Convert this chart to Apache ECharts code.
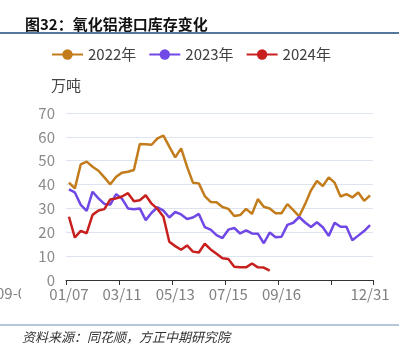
<!DOCTYPE html>
<html>
<head>
<meta charset="utf-8">
<script src="https://cdn.jsdelivr.net/npm/echarts@6/dist/echarts.min.js"></script>
<style>
html,body{margin:0;padding:0;background:#fff;}
#c{width:408px;height:364px;}
</style>
</head>
<body>
<div id="c"></div>
<script>
var categories = ["01/07","01/14","01/21","01/28","02/04","02/11","02/18","02/25","03/04","03/11","03/18","03/25","04/01","04/08","04/15","04/22","04/29","05/06","05/13","05/20","05/27","06/03","06/10","06/17","06/24","07/01","07/08","07/15","07/22","07/29","08/05","08/12","08/19","08/26","09/02","09/09","09/16","09/23","09/30","10/07","10/14","10/21","10/28","11/04","11/11","11/18","11/25","12/02","12/09","12/16","12/23","12/31"];
var s2022 = [40.8, 38.4, 48.5, 49.6, 47.5, 45.8, 43.0, 40.1, 43.3, 45.0, 45.4, 46.1, 57.0, 56.9, 56.7, 59.4, 60.5, 55.9, 51.4, 55.2, 47.5, 40.8, 40.5, 35.2, 32.7, 32.6, 30.6, 29.8, 26.8, 27.2, 29.8, 27.7, 33.9, 30.7, 30.0, 28.0, 28.0, 31.8, 29.3, 26.7, 31.8, 37.6, 41.5, 39.4, 43.0, 40.8, 35.0, 36.0, 34.6, 36.7, 33.2, 35.5];
var s2023 = [38.0, 36.7, 31.5, 29.0, 37.0, 34.2, 31.9, 31.6, 36.0, 34.0, 30.0, 29.7, 30.0, 25.1, 28.2, 30.5, 29.1, 26.2, 28.5, 27.5, 25.6, 26.2, 27.7, 22.2, 21.1, 18.8, 17.6, 21.1, 21.8, 19.5, 20.8, 19.5, 19.4, 15.4, 19.9, 17.9, 18.1, 23.1, 24.0, 26.4, 24.1, 22.2, 24.2, 22.1, 18.5, 24.0, 22.3, 22.3, 16.7, 18.6, 20.5, 23.0];
var s2024 = [26.5, 17.8, 20.6, 19.6, 27.3, 29.1, 29.7, 33.8, 34.2, 35.0, 36.4, 33.0, 33.4, 35.5, 32.0, 29.8, 26.5, 16.0, 14.2, 12.7, 14.5, 11.9, 11.5, 15.2, 12.8, 11.0, 9.1, 8.8, 5.6, 5.3, 5.3, 6.9, 5.3, 5.2, 3.9];
var seriesNames = ["2022年", "2023年", "2024年"];
var colors = ["#c27c1c", "#7048e6", "#c8201e"];
var yTicks = [0, 10, 20, 30, 40, 50, 60, 70];

var FONT = "'Noto Sans CJK SC', 'Noto Sans', sans-serif";
var chart = echarts.init(document.getElementById('c'), null, {renderer: 'canvas'});

function mk(name, data, color) {
  return {
    name: name, type: 'line', data: data,
    symbol: 'circle', symbolSize: 13, showSymbol: false,
    lineStyle: {width: 2.5, color: color},
    itemStyle: {color: color},
    emphasis: {disabled: true},
    animation: false
  };
}

chart.setOption({
  animation: false,
  color: colors,
  textStyle: {fontFamily: FONT},
  title: {
    text: '图32：氧化铝港口库存变化',
    left: 20, top: 12,
    textStyle: {fontSize: 15, fontWeight: 'bold', color: '#111', fontFamily: FONT}
  },
  legend: {
    top: 42, left: 46,
    itemWidth: 31, itemHeight: 13, itemGap: 12,
    textStyle: {fontSize: 15, color: '#404040', fontFamily: FONT},
    data: seriesNames
  },
  grid: {left: 66, right: 35, top: 113, bottom: 84, containLabel: false},
  xAxis: {
    type: 'category', data: categories, boundaryGap: true,
    axisLine: {lineStyle: {color: '#333', width: 1}},
    axisTick: {show: true, length: 5, lineStyle: {color: '#333'}, interval: function (i) { return i % 9 === 0; }},
    axisLabel: {
      color: '#808080', fontSize: 15, margin: 7, fontFamily: FONT,
      interval: function (i) { return (i % 9 === 0 && i !== 45) || i === categories.length - 1; }
    },
    splitLine: {show: false}
  },
  yAxis: {
    type: 'value', min: yTicks[0], max: yTicks[yTicks.length - 1], interval: 10,
    name: '万吨', nameGap: 20,
    nameTextStyle: {fontSize: 15, color: '#444', fontFamily: FONT},
    axisLine: {show: false}, axisTick: {show: false},
    axisLabel: {color: '#8a8a8a', fontSize: 15, margin: 11, fontFamily: FONT},
    splitLine: {lineStyle: {color: '#dde3ef', width: 1}}
  },
  graphic: [
    {type: 'line', shape: {x1: 0, y1: 33, x2: 399, y2: 33}, style: {stroke: '#1b4a78', lineWidth: 1.5}, silent: true},
    {type: 'line', shape: {x1: 0, y1: 325, x2: 399, y2: 325}, style: {stroke: '#6f8fb5', lineWidth: 1}, silent: true},
    {type: 'text', left: 22, top: 331, style: {text: '资料来源：同花顺，方正中期研究院', font: 'italic 13px ' + FONT, fill: '#333'}, silent: true},
    {type: 'text', x: -4, y: 286, style: {text: '09-0', font: '15px ' + FONT, fill: '#808080'}, silent: true, z: 1},
    {type: 'rect', shape: {x: 21, y: 284, width: 8, height: 20}, style: {fill: '#fff'}, silent: true, z: 2}
  ],
  series: [
    mk(seriesNames[0], s2022, colors[0]),
    mk(seriesNames[1], s2023, colors[1]),
    mk(seriesNames[2], s2024, colors[2])
  ]
});
</script>
</body>
</html>
